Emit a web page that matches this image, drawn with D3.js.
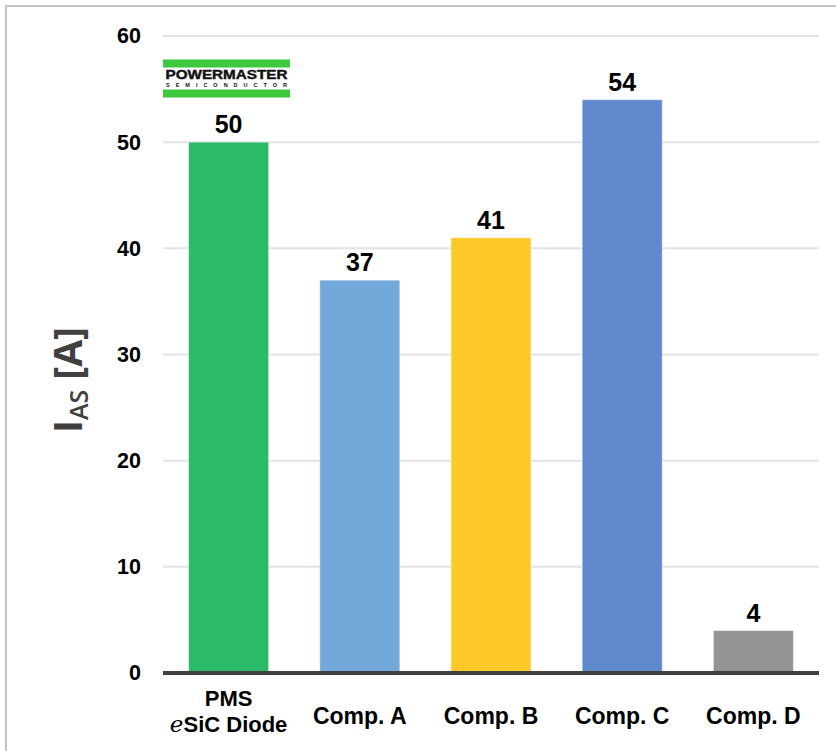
<!DOCTYPE html>
<html>
<head>
<meta charset="utf-8">
<script src="https://cdn.jsdelivr.net/npm/d3@7"></script>
<style>
  html, body { margin: 0; padding: 0; background: #fff; }
  svg { display: block; }
</style>
</head>
<body>
<svg id="chart" width="836" height="751"></svg>
<script>
// Avalanche current comparison
const categories = ["PMS eSiC Diode", "Comp. A", "Comp. B", "Comp. C", "Comp. D"];
const values = [50, 37, 41, 54, 4];
const barColors = ["#2bba67", "#73a9da", "#ffc829", "#5f88cd", "#949494"];
const yTicks = [0, 10, 20, 30, 40, 50, 60];

const svg = d3.select("#chart");
const W = 836, H = 751;
const plot = { left: 163, right: 819, top: 36, bottom: 673 };
const FONT = "Liberation Sans, Arial, sans-serif";

// outer frame
svg.append("path")
  .attr("d", `M6,${H + 5} V6 H${W + 5}`)
  .attr("fill", "none")
  .attr("stroke", "#c4c4c4")
  .attr("stroke-width", 2);

const x = d3.scaleBand()
  .domain(categories)
  .range([plot.left, plot.right])
  .paddingInner(0.39)
  .paddingOuter(0.195);

const y = d3.scaleLinear()
  .domain([0, 60])
  .range([plot.bottom, plot.top]);

// gridlines
svg.append("g")
  .selectAll("line")
  .data(yTicks.filter(d => d > 0))
  .join("line")
  .attr("x1", plot.left)
  .attr("x2", plot.right)
  .attr("y1", d => y(d))
  .attr("y2", d => y(d))
  .attr("stroke", "#e3e3e3")
  .attr("stroke-width", 2);

// y axis labels
const yAxis = d3.axisLeft(y).tickValues(yTicks).tickSize(0).tickPadding(0);
const gy = svg.append("g")
  .attr("transform", `translate(141,0)`)
  .call(yAxis);
gy.select(".domain").remove();
gy.selectAll("text")
  .attr("font-family", FONT)
  .attr("font-weight", "bold")
  .attr("font-size", 21.5)
  .attr("fill", "#000");

// bars
svg.append("g")
  .selectAll("rect")
  .data(categories)
  .join("rect")
  .attr("x", d => x(d))
  .attr("width", x.bandwidth())
  .attr("y", (d, i) => y(values[i]))
  .attr("height", (d, i) => y(0) - y(values[i]))
  .attr("fill", (d, i) => barColors[i])
  .attr("stroke", "rgba(255,255,255,0.45)")
  .attr("stroke-width", 1);

// value labels
svg.append("g")
  .selectAll("text")
  .data(categories)
  .join("text")
  .attr("x", d => x(d) + x.bandwidth() / 2)
  .attr("y", (d, i) => y(values[i]) - 9)
  .attr("text-anchor", "middle")
  .attr("font-family", FONT)
  .attr("font-weight", "bold")
  .attr("font-size", 25)
  .attr("fill", "#000")
  .text((d, i) => values[i]);

// x axis baseline
svg.append("line")
  .attr("x1", plot.left)
  .attr("x2", plot.right)
  .attr("y1", y(0))
  .attr("y2", y(0))
  .attr("stroke", "#404040")
  .attr("stroke-width", 4);

// category labels
const xl = svg.append("g")
  .attr("font-family", FONT)
  .attr("font-weight", "bold")
  .attr("font-size", 23)
  .attr("fill", "#000")
  .attr("text-anchor", "middle");

categories.forEach((c, i) => {
  const cx = x(c) + x.bandwidth() / 2;
  if (i === 0) {
    // two-line label with the brand's italic "e"
    xl.append("text").attr("x", cx).attr("y", 706).attr("font-size", 22).text("PMS");
    const t2 = xl.append("text").attr("x", cx).attr("y", 732).attr("font-size", 22);
    t2.append("tspan")
      .attr("font-family", "DejaVu Serif, serif")
      .attr("font-style", "italic")
      .attr("font-weight", "normal")
      .attr("font-size", 23)
      .text("e");
    t2.append("tspan").text("SiC Diode");
  } else {
    xl.append("text").attr("x", cx).attr("y", 724).text(c);
  }
});

// y axis title
const title = svg.append("text")
  .attr("transform", "translate(82,380) rotate(-90)")
  .attr("text-anchor", "middle")
  .attr("font-family", "Open Sans, Liberation Sans, sans-serif")
  .attr("font-weight", 700)
  .attr("font-size", 39)
  .attr("fill", "#404040");
title.append("tspan").text("I");
title.append("tspan").attr("font-size", 25).attr("font-weight", 600).attr("dy", 6).text("AS");
title.append("tspan").attr("dy", -6).text(" [A]");

// brand badge above the first bar
const logo = svg.append("g");
const lx = plot.left, lw = 127;
logo.append("rect").attr("x", lx).attr("y", 59.5).attr("width", lw).attr("height", 8).attr("fill", "#3dc83d");
logo.append("rect").attr("x", lx).attr("y", 89.5).attr("width", lw).attr("height", 8).attr("fill", "#3dc83d");
logo.append("text")
  .attr("x", lx + lw / 2)
  .attr("y", 79)
  .attr("text-anchor", "middle")
  .attr("font-family", FONT)
  .attr("font-weight", "bold")
  .attr("font-size", 12)
  .attr("textLength", 122)
  .attr("lengthAdjust", "spacingAndGlyphs")
  .attr("stroke", "#111")
  .attr("stroke-width", 0.4)
  .attr("fill", "#111")
  .text("POWERMASTER");
logo.append("text")
  .attr("x", lx + lw / 2)
  .attr("y", 86.5)
  .attr("text-anchor", "middle")
  .attr("font-family", FONT)
  .attr("font-weight", "bold")
  .attr("font-size", 5.5)
  .attr("textLength", 121)
  .attr("lengthAdjust", "spacing")
  .attr("fill", "#111")
  .text("SEMICONDUCTOR");
</script>
</body>
</html>
